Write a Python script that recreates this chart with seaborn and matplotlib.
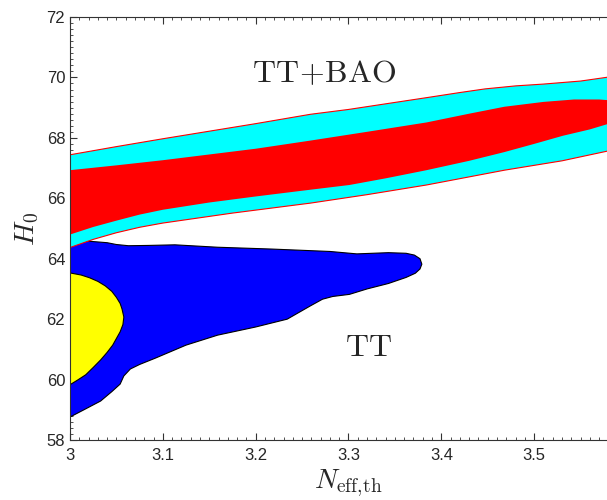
import matplotlib
matplotlib.use("Agg")
import matplotlib.pyplot as plt
import seaborn as sns
import numpy as np
from matplotlib.ticker import MultipleLocator

# --- contours (N_eff,th , H0) ---
# TT+BAO, 95% region (cyan): upper edge left->right, lower edge left->right
bao95_x_up = [3.000, 3.050, 3.100, 3.150, 3.200, 3.259, 3.300, 3.343, 3.384, 3.420, 3.447, 3.480, 3.510, 3.550, 3.600]
bao95_y_up = [67.44, 67.71, 67.97, 68.22, 68.47, 68.78, 68.94, 69.14, 69.33, 69.50, 69.62, 69.72, 69.78, 69.88, 70.10]
bao95_x_lo = [3.000, 3.025, 3.050, 3.075, 3.100, 3.175, 3.259, 3.320, 3.384, 3.468, 3.530, 3.600]
bao95_y_lo = [64.37, 64.64, 64.86, 65.04, 65.18, 65.51, 65.84, 66.12, 66.44, 66.93, 67.24, 67.70]

# TT+BAO, 68% region (red)
bao68_x_up = [3.000, 3.050, 3.100, 3.150, 3.200, 3.259, 3.320, 3.384, 3.430, 3.468, 3.510, 3.543, 3.570, 3.600]
bao68_y_up = [66.93, 67.09, 67.26, 67.45, 67.64, 67.91, 68.20, 68.51, 68.80, 69.03, 69.19, 69.27, 69.27, 69.20]
bao68_x_lo = [3.000, 3.025, 3.050, 3.075, 3.100, 3.150, 3.200, 3.250, 3.301, 3.340, 3.384, 3.430, 3.468, 3.500, 3.531, 3.560, 3.600]
bao68_y_lo = [64.80, 65.05, 65.26, 65.46, 65.62, 65.86, 66.06, 66.25, 66.44, 66.66, 66.93, 67.24, 67.53, 67.80, 68.07, 68.28, 68.65]

# TT, 95% region (blue), closed outline
tt95_x = [3.000, 3.020, 3.040, 3.050, 3.063, 3.085, 3.113, 3.159, 3.217, 3.280, 3.309, 3.343,
          3.362, 3.371, 3.377, 3.379, 3.377, 3.372, 3.362, 3.343, 3.320, 3.301, 3.283,
          3.272, 3.259, 3.234, 3.200, 3.159, 3.125, 3.092, 3.075, 3.065, 3.058, 3.054,
          3.045, 3.033, 3.015, 3.000]
tt95_y = [64.55, 64.58, 64.53, 64.47, 64.43, 64.44, 64.46, 64.38, 64.32, 64.24, 64.16, 64.20,
          64.18, 64.12, 64.00, 63.82, 63.66, 63.52, 63.38, 63.18, 63.00, 62.82, 62.75,
          62.66, 62.44, 62.00, 61.74, 61.47, 61.14, 60.71, 60.50, 60.35, 60.12, 59.85,
          59.60, 59.29, 59.00, 58.76]

# TT, 68% region (yellow)
tt68_x = [3.000, 3.012, 3.021, 3.030, 3.038, 3.045, 3.050, 3.054, 3.056, 3.058, 3.057,
          3.054, 3.050, 3.046, 3.040, 3.033, 3.025, 3.017, 3.008, 3.000]
tt68_y = [63.53, 63.46, 63.37, 63.25, 63.10, 62.92, 62.72, 62.52, 62.34, 62.07, 61.82,
          61.58, 61.36, 61.14, 60.90, 60.65, 60.40, 60.16, 59.98, 59.83]

sns.set_style("ticks")
plt.rcParams["mathtext.fontset"] = "cm"
plt.rcParams["font.family"] = ["Liberation Sans", "DejaVu Sans"]

fig = plt.figure(figsize=(6.07, 5.00), dpi=100)
ax = fig.add_axes([70 / 607, 60 / 500, 557 / 607, 423 / 500])

# TT first (cyan band is drawn over it)
ax.fill(tt95_x, tt95_y, facecolor="#0000ff", edgecolor="black", lw=0.8)
ax.fill(tt68_x, tt68_y, facecolor="#ffff00", edgecolor="black", lw=0.8)

ax.fill(bao95_x_up + bao95_x_lo[::-1], bao95_y_up + bao95_y_lo[::-1],
        facecolor="#00ffff", edgecolor="red", lw=0.8)
ax.fill(bao68_x_up + bao68_x_lo[::-1], bao68_y_up + bao68_y_lo[::-1],
        facecolor="#ff0000", edgecolor="none")

ax.text(3.274, 70.1, r"$\mathrm{TT\!+\!BAO}$", fontsize=23, ha="center", va="center")
ax.text(3.322, 61.05, r"$\mathrm{TT}$", fontsize=23, ha="center", va="center")

ax.set_xlim(3.0, 3.6)
ax.set_ylim(58, 72)
ax.xaxis.set_major_locator(MultipleLocator(0.1))
ax.xaxis.set_minor_locator(MultipleLocator(0.01))
ax.yaxis.set_major_locator(MultipleLocator(2))
ax.yaxis.set_minor_locator(MultipleLocator(0.2))
ax.set_xticks([3.0, 3.1, 3.2, 3.3, 3.4, 3.5])
ax.set_xticklabels(["3", "3.1", "3.2", "3.3", "3.4", "3.5"])
ax.tick_params(which="both", direction="in", top=True, right=False,
               labelsize=12, colors="#333333", labelcolor="#262626")
ax.tick_params(which="major", length=5, width=0.8)
ax.tick_params(which="minor", length=2.5, width=0.6)
ax.tick_params(axis="x", pad=6)
for s in ax.spines.values():
    s.set_linewidth(0.8)
    s.set_color("#333333")

ax.set_xlabel(r"$N_{\mathrm{eff,\!th}}$", fontsize=20, labelpad=3)
ax.set_ylabel(r"$H_0$", fontsize=20, labelpad=4)

fig.savefig("out.png", dpi=100)
